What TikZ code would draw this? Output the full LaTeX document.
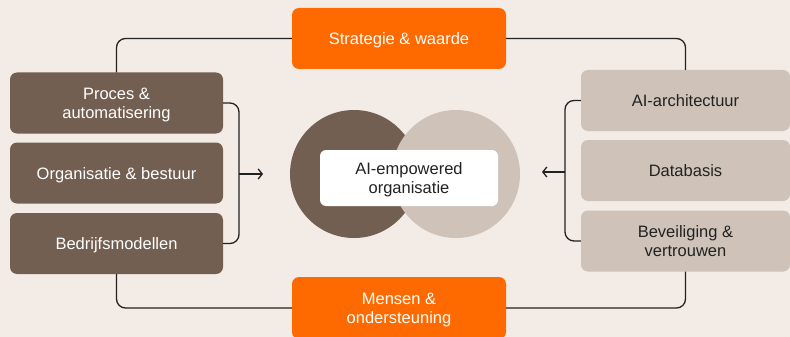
\documentclass[tikz,border=0pt]{standalone}
\usepackage{fontspec}
\setmainfont{Liberation Sans}
\usetikzlibrary{arrows.meta}
\definecolor{bg}{HTML}{F2EBE6}
\definecolor{darkb}{HTML}{735F51}
\definecolor{lightb}{HTML}{CFC3B9}
\definecolor{orng}{HTML}{FF6A00}
\definecolor{ink}{HTML}{222222}
\newcommand{\boxtxt}[1]{\raisebox{-2.5pt}[\height][\depth]{\begin{tabular}{@{}c@{}}#1\end{tabular}}}
\tikzset{
  txt/.style={font=\fontsize{16.5}{19}\selectfont},
  box/.style={rounded corners=7pt, minimum width=213pt, minimum height=61pt, align=center, inner sep=2pt, txt},
  darkbox/.style={box, fill=darkb, text=white},
  lightbox/.style={box, fill=lightb, text=ink, minimum width=209pt},
  orangebox/.style={box, fill=orng, text=white, minimum width=214pt},
  conn/.style={draw=ink, line width=1.3pt, rounded corners=9pt},
  arr/.style={draw=ink, line width=1.3pt, -{Straight Barb[length=4pt,width=10pt]}}
}
\begin{document}
\begin{tikzpicture}[x=1pt,y=-1pt]
\fill[bg] (0,0) rectangle (790,337);
\useasboundingbox (0,0) rectangle (790,337);
% circles
\fill[darkb] (354,174) circle (64);
\fill[lightb] (456,174) circle (64);
\node[fill=white, rounded corners=6pt, minimum width=178pt, minimum height=56pt, align=center, text=ink, txt] (C) at (409,178) {\boxtxt{AI-empowered\\organisatie}};
% boxes
\node[orangebox] (S) at (399,38.5) {\boxtxt{Strategie \& waarde}};
\node[orangebox, minimum height=62pt] (M) at (399,308) {\boxtxt{Mensen \&\\ondersteuning}};
\node[darkbox] (L1) at (116.5,103) {\boxtxt{Proces \&\\automatisering}};
\node[darkbox] (L2) at (116.5,173) {\boxtxt{Organisatie \& bestuur}};
\node[darkbox] (L3) at (116.5,243.5) {\boxtxt{Bedrijfsmodellen}};
\node[lightbox] (R1) at (685.5,100.5) {\boxtxt{AI-architectuur}};
\node[lightbox] (R2) at (685.5,170.5) {\boxtxt{Databasis}};
\node[lightbox] (R3) at (685.5,241) {\boxtxt{Beveiliging \&\\vertrouwen}};
% outer connectors
\draw[conn] (L1.north) |- (S.west);
\draw[conn] (L3.south) |- (M.west);
\draw[conn] (S.east) -| (R1.north);
\draw[conn] (M.east) -| (R3.south);
% brackets
\coordinate (LB) at (239,174);
\coordinate (LA) at (263,174);
\draw[conn] (L1.east) -| (LB) |- (L3.east);
\draw[arr] (LB) -- (LA);
\coordinate (RB) at (565,172);
\coordinate (RA) at (542,172);
\draw[conn] (R1.west) -| (RB) |- (R3.west);
\draw[arr] (RB) -- (RA);
\end{tikzpicture}
\end{document}
